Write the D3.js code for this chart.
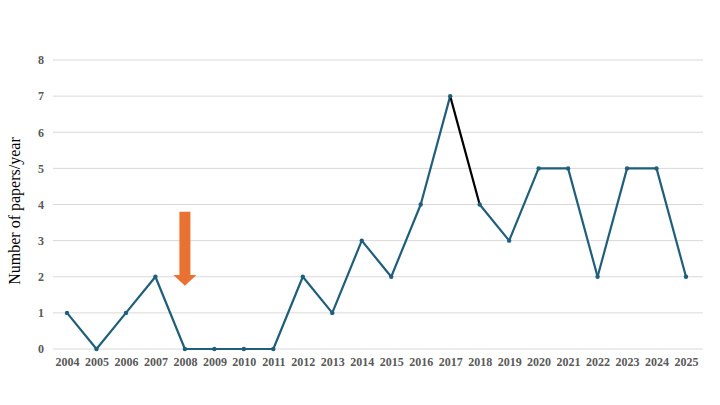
<!DOCTYPE html>
<html><head><meta charset="utf-8">
<script src="https://cdn.jsdelivr.net/npm/d3@7"></script>
<style>body{margin:0;background:#fff}svg{display:block}
.lbl{font-family:"Liberation Serif","Times New Roman",serif;font-weight:bold;font-size:12px;fill:#595959}
.ttl{font-family:"Liberation Serif","Times New Roman",serif;font-size:16px;fill:#000}
</style>
</head><body>
<svg id="c" width="720" height="405"></svg>
<script>
const years = ["2004","2005","2006","2007","2008","2009","2010","2011","2012","2013","2014","2015","2016","2017","2018","2019","2020","2021","2022","2023","2024","2025"];
const papers = [1,0,1,2,0,0,0,0,2,1,3,2,4,7,4,3,5,5,2,5,5,2];
const yTicks = [0,1,2,3,4,5,6,7,8];
const highlightSegment = ["2017","2018"];
const arrowYear = "2008";
const arrowRange = [3.8, 2.05, 1.75];

const svg = d3.select("#c");
const x = d3.scalePoint().domain(years).range([67, 686]);
const y = d3.scaleLinear().domain([0, 8]).range([349, 60]);

// gridlines
svg.append("g").selectAll("line").data(yTicks).join("line")
  .attr("x1", 53).attr("x2", 703)
  .attr("y1", d => y(d)).attr("y2", d => y(d))
  .attr("stroke", "#d9d9d9").attr("stroke-width", 1);

// y axis labels
const yAxis = d3.axisLeft(y).tickValues(yTicks).tickSize(0).tickPadding(0);
const gy = svg.append("g").attr("transform", "translate(44,0)").call(yAxis)
  .attr("font-family", null).attr("font-size", null);
gy.select(".domain").remove();
gy.selectAll("text").attr("class", "lbl").attr("fill", null);

// x axis labels
const xAxis = d3.axisBottom(x).tickSize(0).tickPadding(0);
const gx = svg.append("g").attr("transform", "translate(0,357)").call(xAxis)
  .attr("font-family", null).attr("font-size", null);
gx.select(".domain").remove();
gx.selectAll("text").attr("class", "lbl").attr("fill", null);

// axis title
svg.append("text").attr("class", "ttl").attr("transform", "translate(20,211) rotate(-90)")
  .attr("text-anchor", "middle").text("Number of papers/year");

const data = years.map((yr, i) => ({yr, v: papers[i]}));
// line segments
const segs = data.slice(1).map((d, i) => [data[i], d]);
svg.append("g").selectAll("line").data(segs).join("line")
  .attr("x1", s => x(s[0].yr)).attr("y1", s => y(s[0].v))
  .attr("x2", s => x(s[1].yr)).attr("y2", s => y(s[1].v))
  .attr("stroke", s => (s[0].yr === highlightSegment[0] && s[1].yr === highlightSegment[1]) ? "#000" : "#1f5f7b")
  .attr("stroke-width", 2.2).attr("stroke-linecap", "round");

svg.append("g").selectAll("circle").data(data).join("circle")
  .attr("cx", d => x(d.yr)).attr("cy", d => y(d.v)).attr("r", 2.2)
  .attr("fill", "#1f5f7b");

// arrow annotation
const ax = x(arrowYear);
const aTop = y(arrowRange[0]), aHead = y(arrowRange[1]), aTip = y(arrowRange[2]);
svg.append("path")
  .attr("d", `M${ax-5.5},${aTop} L${ax+5.5},${aTop} L${ax+5.5},${aHead} L${ax+11.5},${aHead} L${ax},${aTip} L${ax-11.5},${aHead} L${ax-5.5},${aHead} Z`)
  .attr("fill", "#e97132");
</script>
</body></html>
